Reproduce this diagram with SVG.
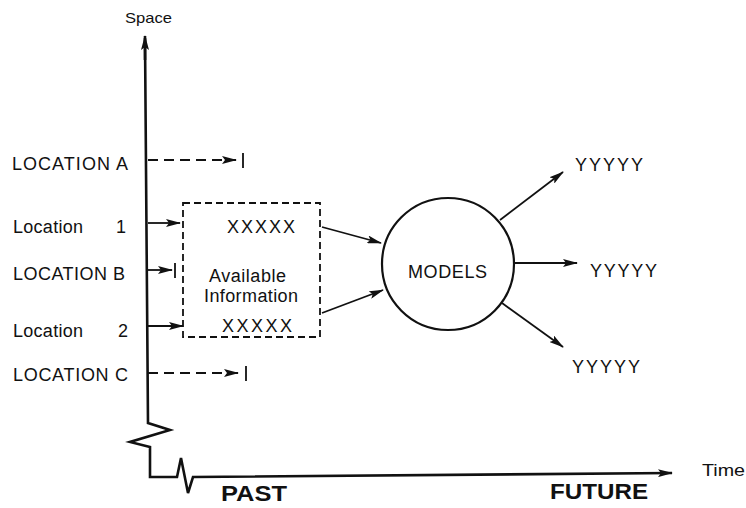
<svg xmlns="http://www.w3.org/2000/svg" width="746" height="508" viewBox="0 0 746 508">
  <style>
    text { font-family: "Liberation Sans", Arial, sans-serif; fill: #111; }
    .lbl { font-size: 18px; }
    .big { font-size: 18px; }
    .bold { font-size: 22px; font-weight: bold; }
    .axis { fill: none; stroke: #111; stroke-width: 2.6; stroke-linejoin: miter; }
    .ln { fill: none; stroke: #111; stroke-width: 1.8; }
    .dash { fill: none; stroke: #111; stroke-width: 1.8; stroke-dasharray: 10 6; }
    .box { fill: none; stroke: #111; stroke-width: 1.8; stroke-dasharray: 7 4; }
  </style>
  <defs>
    <marker id="arr" viewBox="0 0 15 8" refX="14" refY="4" markerWidth="15" markerHeight="8" markerUnits="userSpaceOnUse" orient="auto">
      <path d="M0,0 L15,4 L0,8 L3,4 z" fill="#111"/>
    </marker>
  </defs>

  <!-- axes -->
  <g id="axes">
    <path class="axis" d="M145,38 L148,423 L170,430 L130,442 L150,447 L150,477 L177,477 L181,458 L188,493 L193,477 L672,473" marker-end="url(#arr)"/>
    <path class="axis" d="M145,60 L145,36" marker-end="url(#arr)"/>
    <text x="125" y="23" style="font-size:15px" textLength="47" lengthAdjust="spacingAndGlyphs">Space</text>
    <text x="702" y="476" style="font-size:17px" textLength="43" lengthAdjust="spacingAndGlyphs">Time</text>
    <text x="221" y="501" class="bold" textLength="66" lengthAdjust="spacingAndGlyphs">PAST</text>
    <text x="550" y="499" class="bold" textLength="98" lengthAdjust="spacingAndGlyphs">FUTURE</text>
  </g>

  <!-- location labels on the space axis -->
  <g id="locA">
    <text x="12" y="170" class="lbl" textLength="116" lengthAdjust="spacing">LOCATION A</text>
  </g>
  <g id="loc1">
    <text x="13" y="233" class="lbl" textLength="70" lengthAdjust="spacing">Location</text>
    <text x="116" y="233" class="lbl">1</text>
  </g>
  <g id="locB">
    <text x="13" y="280" class="lbl" textLength="112" lengthAdjust="spacing">LOCATION B</text>
  </g>
  <g id="loc2">
    <text x="13" y="337" class="lbl" textLength="70" lengthAdjust="spacing">Location</text>
    <text x="118" y="337" class="lbl">2</text>
  </g>
  <g id="locC">
    <text x="13" y="381" class="lbl" textLength="115" lengthAdjust="spacing">LOCATION C</text>
  </g>

  <!-- available information box -->
  <g id="info">
    <rect class="box" x="183" y="203" width="137" height="134"/>
    <text x="227" y="233" class="big" textLength="68" lengthAdjust="spacing">XXXXX</text>
    <text x="209" y="282" class="lbl" textLength="77" lengthAdjust="spacing">Available</text>
    <text x="204" y="302" class="lbl" textLength="94" lengthAdjust="spacing">Information</text>
    <text x="222" y="332" class="big" textLength="70" lengthAdjust="spacing">XXXXX</text>
  </g>

  <!-- models -->
  <g id="models">
    <circle cx="448" cy="264" r="66" fill="none" stroke="#111" stroke-width="2.2"/>
    <text x="408" y="278" class="lbl" textLength="79" lengthAdjust="spacing">MODELS</text>
  </g>

  <!-- outputs -->
  <g id="out1"><text x="575" y="171" class="big" textLength="68" lengthAdjust="spacing">YYYYY</text></g>
  <g id="out2"><text x="590" y="277" class="big" textLength="67" lengthAdjust="spacing">YYYYY</text></g>
  <g id="out3"><text x="572" y="373" class="big" textLength="68" lengthAdjust="spacing">YYYYY</text></g>

  <!-- connectors -->
  <g id="connectors">
    <path class="dash" d="M148,160 L236,160" marker-end="url(#arr)"/>
    <path class="ln" d="M243,153 L243,168"/>
    <path class="ln" d="M148,223 L180,223" marker-end="url(#arr)"/>
    <path class="ln" d="M148,270 L172,270" marker-end="url(#arr)"/>
    <path class="ln" d="M175,263 L175,278"/>
    <path class="ln" d="M148,326 L183,326" marker-end="url(#arr)"/>
    <path class="dash" d="M148,373 L238,373" marker-end="url(#arr)"/>
    <path class="ln" d="M246,366 L246,381"/>
    <path class="ln" d="M322,227 L381,243" marker-end="url(#arr)"/>
    <path class="ln" d="M322,313 L383,290" marker-end="url(#arr)"/>
    <path class="ln" d="M500,220 L563,172" marker-end="url(#arr)"/>
    <path class="ln" d="M514,263 L577,263" marker-end="url(#arr)"/>
    <path class="ln" d="M502,303 L563,347" marker-end="url(#arr)"/>
  </g>
</svg>
